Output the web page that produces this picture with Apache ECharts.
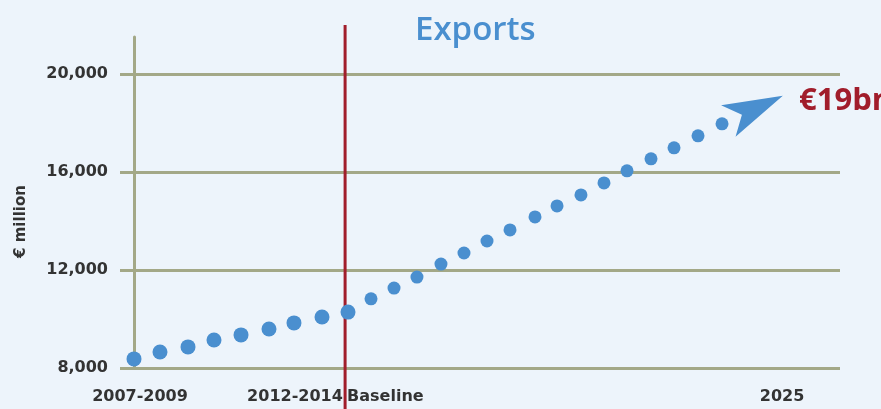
<!DOCTYPE html>
<html>
<head>
<meta charset="utf-8">
<script src="https://cdn.jsdelivr.net/npm/echarts@6/dist/echarts.min.js"></script>
<style>
html,body{margin:0;padding:0;background:#edf4fb;}
#chart{width:881px;height:409px;}
</style>
</head>
<body>
<div id="chart"></div>
<script>
// ---- data ----
const titleText = 'Exports';
const targetText = '€19bn';
const yAxisName = '€ million';
const yTicks = [8000, 12000, 16000, 20000];
const xTickValues = [0.85, 22.8, 35.6, 91.8];
const xTickLabels = ['2007-2009', '2012-2014', 'Baseline', '2025'];
// historic series (up to baseline)
const histX = [0, 3.68, 7.65, 11.33, 15.16, 19.12, 22.66, 26.63, 30.31];
const histY = [8370, 8650, 8860, 9140, 9350, 9590, 9840, 10080, 10280];
// projection series
const projX = [33.57, 36.83, 40.08, 43.48, 46.74, 50.0, 53.26, 56.8, 59.92, 63.31, 66.57, 69.83, 73.23, 76.49, 79.89, 83.29];
const projY = [10820, 11260, 11710, 12240, 12690, 13180, 13630, 14160, 14610, 15060, 15550, 16040, 16530, 16980, 17470, 17960];
// arrow tip
const arrowEnd = [91.9, 19100];
// baseline marker
const baselineX = 29.9;

const zip = (xs, ys) => xs.map((x, i) => [x, ys[i]]);

const gridColor = '#a3a887';
const dotColor = '#4a8fcf';
const red = '#a11d2b';
const textColor = '#333333';
const font = 'DejaVu Sans';

const chart = echarts.init(document.getElementById('chart'));
chart.setOption({
  backgroundColor: '#edf4fb',
  animation: false,
  title: [
    { text: titleText, left: 410, top: 9,
      textStyle: { color: '#4a8fcf', fontSize: 33, fontWeight: 600, fontFamily: 'Open Sans' } },
    { text: targetText, left: 794, top: 81,
      textStyle: { color: red, fontSize: 31, fontWeight: 'bold', fontFamily: 'Open Sans' } }
  ],
  grid: [
    { left: 134, right: 41, top: 37, bottom: 41 },
    { left: 134, right: 41, top: 25, bottom: 0 }
  ],
  xAxis: [
    { type: 'value', gridIndex: 0, min: 0, max: 100,
      axisLine: { show: false }, axisTick: { show: false }, splitLine: { show: false },
      axisLabel: {
        customValues: xTickValues, margin: 21, color: textColor, fontSize: 16, fontWeight: 'bold', fontFamily: font,
        formatter: function (v) {
          let idx = 0, best = Infinity;
          xTickValues.forEach((t, i) => { const d = Math.abs(t - v); if (d < best) { best = d; idx = i; } });
          return xTickLabels[idx];
        }
      } },
    { type: 'value', gridIndex: 1, min: 0, max: 100, show: false }
  ],
  yAxis: [
    { type: 'value', gridIndex: 0, min: 8000, max: 21500,
      name: yAxisName, nameLocation: 'middle', nameGap: 105,
      nameTextStyle: { color: textColor, fontSize: 15, fontWeight: 'bold', fontFamily: font, padding: [0, 38, 0, 0] },
      axisLine: { show: true, lineStyle: { color: gridColor, width: 3 } },
      axisTick: { show: true, customValues: yTicks, length: 14, lineStyle: { color: gridColor, width: 3 } },
      splitLine: { show: true, lineStyle: { color: gridColor, width: 3 } },
      axisLabel: { customValues: yTicks, margin: 26, color: textColor, fontSize: 16, fontWeight: 'bold', fontFamily: font,
        formatter: v => v.toLocaleString('en-US') } },
    { type: 'value', gridIndex: 1, min: 0, max: 1, show: false }
  ],
  series: [
    { type: 'line', xAxisIndex: 1, yAxisIndex: 1, z: 1, silent: true,
      data: [[baselineX, 0], [baselineX, 1]], symbol: 'none',
      lineStyle: { color: red, width: 3 } },
    { type: 'scatter', xAxisIndex: 0, yAxisIndex: 0, z: 3,
      data: zip(histX, histY), symbolSize: 15, itemStyle: { color: dotColor, opacity: 1 } },
    { type: 'scatter', xAxisIndex: 0, yAxisIndex: 0, z: 3,
      data: zip(projX, projY), symbolSize: 13, itemStyle: { color: dotColor, opacity: 1 },
      markLine: {
        silent: true, symbol: ['none', 'arrow'], symbolSize: [26, 60],
        label: { show: false },
        lineStyle: { color: dotColor, width: 0, type: 'solid', opacity: 1 },
        data: [[{ coord: [projX[projX.length - 1], projY[projY.length - 1]] }, { coord: arrowEnd }]]
      } }
  ]
});
</script>
</body>
</html>
